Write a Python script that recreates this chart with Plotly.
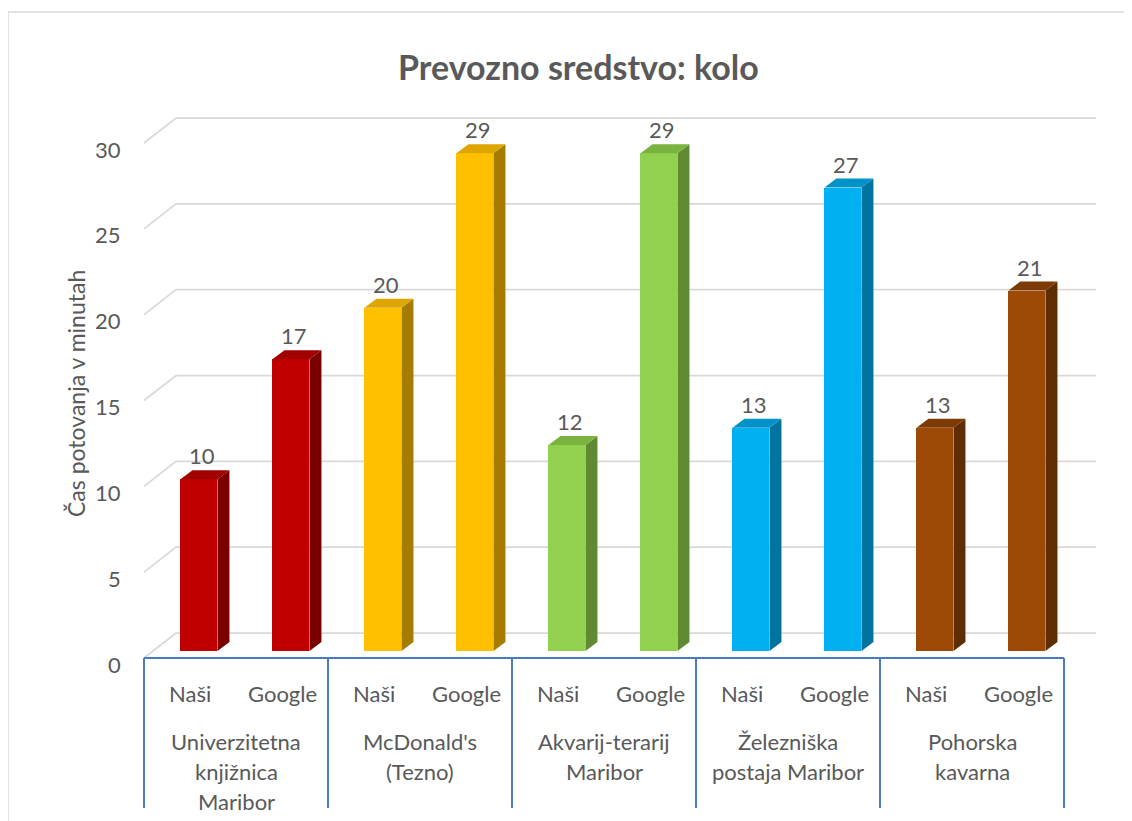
import plotly.graph_objects as go

# ---------------- data ----------------
series_names = ["Naši", "Google"]
group_labels = [
    ["Univerzitetna", "knjižnica", "Maribor"],
    ["McDonald's", "(Tezno)"],
    ["Akvarij-terarij", "Maribor"],
    ["Železniška", "postaja Maribor"],
    ["Pohorska", "kavarna"],
]
nasi = [10, 20, 12, 13, 13]
google = [17, 29, 29, 27, 21]
y_ticks = [0, 5, 10, 15, 20, 25, 30]
title_text = "Prevozno sredstvo: kolo"
y_title = "Čas potovanja v minutah"

# colours per group: front, side, top
front_cols = ["#C00000", "#FFC000", "#92D050", "#00B0F0", "#9C4A06"]
side_cols = ["#7A0000", "#A67C00", "#5F8A31", "#00739E", "#5F2D02"]
top_cols = ["#A00000", "#DDA600", "#7AB33F", "#0093C9", "#7C3A04"]

# ---------------- layout geometry (window pixels -> axis units) ----------------
WIN_W, WIN_H = 1132, 821
OFF = 8                          # page body margin
W, H = WIN_W - OFF, WIN_H - OFF  # figure size
PX0, SLOT = 144.0, 92.0          # window x pixel of slot 0 and width of one slot
PY0, UNIT = 658.0, 515.0 / 30.0  # window y pixel of value 0 (front) and px per unit
n_slots = 2 * len(group_labels)

def px_to_x(px):
    return (px - PX0) / SLOT

def py_to_v(py):
    return (PY0 - py) / UNIT

def paper_x(px):
    return (px - OFF) / W

def paper_y(py):
    return 1 - (py - OFF) / H

DX = 32.0 / SLOT      # floor depth in x units
DY = 25.0 / UNIT      # floor depth in y units
F0 = 0.28             # front depth fraction of bars
BDX = 12.0 / SLOT     # bar depth x
BDY = 9.0 / UNIT      # bar depth y
BW = 37.0 / SLOT      # bar width

text_col = "#595959"
grid_col = "#D9D9D9"
axis_col = "#4A7BC4"
FONT = "Lato"

fig = go.Figure()
shapes = []
annotations = []

# gridlines with left wall diagonal (3D)
for v in y_ticks:
    xs = [0, DX, n_slots + DX]
    ys = [v, v + DY, v + DY]
    path = "M {} {} L {} {} L {} {}".format(xs[0], ys[0], xs[1], ys[1], xs[2], ys[2])
    shapes.append(dict(type="path", path=path, xref="x", yref="y", layer="below",
                       line=dict(color=grid_col, width=1.75)))
    annotations.append(dict(x=0, y=v, xref="x", yref="y", text=str(v), showarrow=False,
                            xanchor="right", yanchor="middle", xshift=-21, yshift=-6,
                            font=dict(family=FONT, size=22, color=text_col)))

# bars
values_by_series = [nasi, google]
bx, by, bcol, bbase = [], [], [], []
for g in range(len(group_labels)):
    for s in range(2):
        k = 2 * g + s
        v = values_by_series[s][g]
        xc = k + 0.5 + F0 * DX
        b = F0 * DY
        bx.append(xc)
        by.append(v)
        bcol.append(front_cols[g])
        bbase.append(b)

fig.add_trace(go.Bar(x=bx, y=by, base=bbase, width=BW, marker=dict(color=bcol, line=dict(width=0)),
                     showlegend=False, hoverinfo="skip"))

for i, (xc, v, b) in enumerate(zip(bx, by, bbase)):
    g = i // 2
    xl, xr = xc - BW / 2, xc + BW / 2
    top = b + v
    # side face
    fig.add_trace(go.Scatter(
        x=[xr, xr + BDX, xr + BDX, xr, xr],
        y=[b, b + BDY, top + BDY, top, b],
        mode="lines", fill="toself", fillcolor=side_cols[g],
        line=dict(width=0, color=side_cols[g]), showlegend=False, hoverinfo="skip"))
    # top face
    fig.add_trace(go.Scatter(
        x=[xl, xr, xr + BDX, xl + BDX, xl],
        y=[top, top, top + BDY, top + BDY, top],
        mode="lines", fill="toself", fillcolor=top_cols[g],
        line=dict(width=0, color=top_cols[g]), showlegend=False, hoverinfo="skip"))
    # data label
    annotations.append(dict(x=xc + BDX / 2 - 0.03, y=top + BDY, xref="x", yref="y", text=str(v),
                            showarrow=False, xanchor="center", yanchor="bottom", yshift=-1,
                            font=dict(family=FONT, size=22, color=text_col)))

# category axis (front floor edge + group separators)
y_bottom = py_to_v(808)
shapes.append(dict(type="line", xref="x", yref="y", x0=0, x1=n_slots, y0=0, y1=0,
                   line=dict(color=axis_col, width=2)))
for gi in range(len(group_labels) + 1):
    shapes.append(dict(type="line", xref="x", yref="y", x0=2 * gi, x1=2 * gi, y0=0, y1=y_bottom,
                       line=dict(color=axis_col, width=2)))

for g, lines in enumerate(group_labels):
    for s in range(2):
        annotations.append(dict(x=2 * g + s + 0.5, y=py_to_v(693), xref="x", yref="y",
                                text=series_names[s], showarrow=False,
                                xanchor="center", yanchor="middle",
                                font=dict(family=FONT, size=22, color=text_col)))
    for j, line in enumerate(lines):
        annotations.append(dict(x=2 * g + 1, y=py_to_v(741 + 30 * j), xref="x", yref="y",
                                text=line, showarrow=False, xanchor="center", yanchor="middle",
                                font=dict(family=FONT, size=22, color=text_col)))

# title & axis title
annotations.append(dict(x=paper_x(578), y=paper_y(66), xref="paper", yref="paper",
                        text="<b>" + title_text + "</b>",
                        showarrow=False, xanchor="center", yanchor="middle",
                        font=dict(family=FONT, size=34, color=text_col)))
annotations.append(dict(x=paper_x(76), y=paper_y(394), xref="paper", yref="paper", text=y_title,
                        showarrow=False, xanchor="center", yanchor="middle", textangle=-90,
                        font=dict(family=FONT, size=23, color=text_col)))

# chart border (left & top)
shapes.append(dict(type="line", xref="paper", yref="paper", x0=paper_x(8), x1=paper_x(8),
                   y0=paper_y(12), y1=-0.05, line=dict(color="#D9D9D9", width=1.5)))
shapes.append(dict(type="line", xref="paper", yref="paper", x0=paper_x(8), x1=1.05,
                   y0=paper_y(12), y1=paper_y(12), line=dict(color="#D9D9D9", width=1.5)))

fig.update_layout(
    width=W, height=H, autosize=False,
    margin=dict(l=0, r=0, t=0, b=0),
    paper_bgcolor="white", plot_bgcolor="white",
    xaxis=dict(range=[px_to_x(OFF), px_to_x(WIN_W)], visible=False, fixedrange=True),
    yaxis=dict(range=[py_to_v(WIN_H), py_to_v(OFF)], visible=False, fixedrange=True),
    shapes=shapes, annotations=annotations,
    showlegend=False, bargap=0,
)

fig.write_html("out.html")
